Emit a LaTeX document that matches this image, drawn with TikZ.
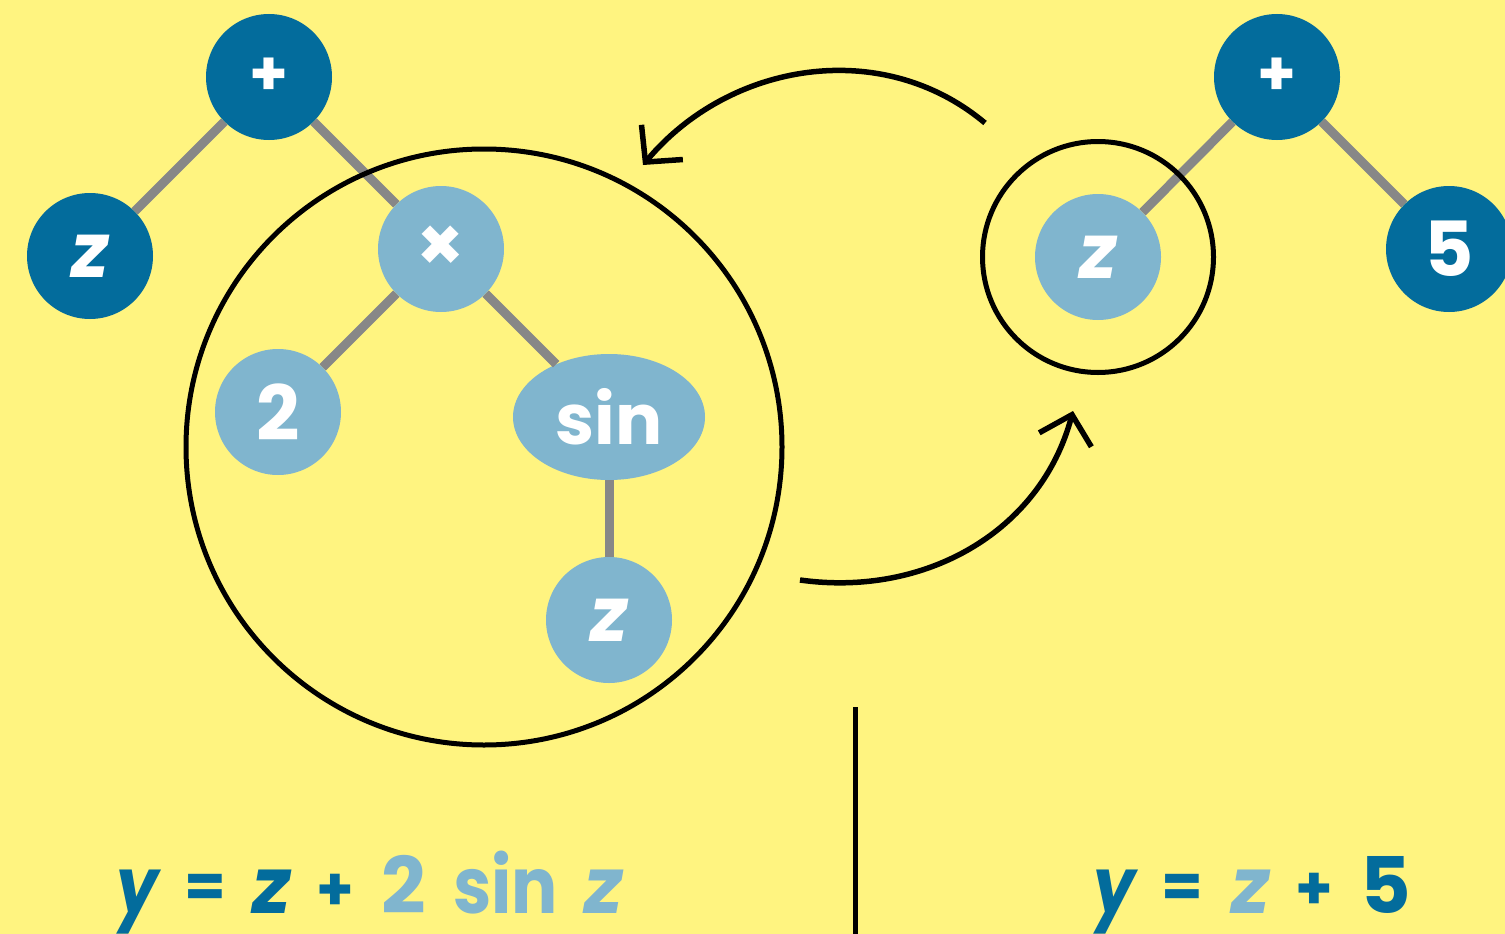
\documentclass[tikz,border=0pt]{standalone}
\usepackage{fontspec}
\setmainfont{Poppins}
\usetikzlibrary{arrows.meta,shapes.geometric}
\definecolor{bg}{HTML}{FFF480}
\definecolor{dblue}{HTML}{036C9C}
\definecolor{lblue}{HTML}{80B5CE}
\definecolor{edgegray}{HTML}{878787}
\begin{document}
\begin{tikzpicture}[x=1pt,y=1pt,
 nd/.style={circle, minimum size=126pt, inner sep=0pt, text=white, font=\fontsize{76}{76}\selectfont\bfseries},
 dk/.style={nd, fill=dblue},
 lt/.style={nd, fill=lblue},
 edge/.style={draw=edgegray, line width=9pt},
 ring/.style={draw=black, line width=5pt},
 arr/.style={draw=black, line width=5.5pt, -{Straight Barb[length=26pt,width=54pt,line width=5.5pt]}},
 eq/.style={anchor=base west, inner sep=0pt, text depth=0pt, font=\fontsize{78}{78}\selectfont\bfseries},
 sym/.style={anchor=center, inner sep=0pt, font=\fontsize{60}{60}\selectfont\bfseries},
]
\fill[bg] (0,0) rectangle (1505,-934);
\useasboundingbox (0,0) rectangle (1505,-934);
% left tree
\node[dk] (p1) at (269,-77) {\fontsize{62}{62}\selectfont +};
\node[dk] (z1) at (90,-256) {\itshape z};
\node[lt] (t1) at (441,-249) {\fontsize{76}{76}\selectfont ×};
\node[lt] (n2) at (278,-412) {2};
\node[ellipse, fill=lblue, minimum width=192pt, minimum height=126pt, inner sep=0pt, text=white, font=\fontsize{70}{70}\selectfont\bfseries] (s1) at (609,-417) {sin};
\node[lt] (z2) at (609,-620) {\itshape z};
\draw[edge] (p1) -- (z1);
\draw[edge] (p1) -- (t1);
\draw[edge] (t1) -- (n2);
\draw[edge] (t1) -- (s1);
\draw[edge] (s1) -- (z2);
\node[ring, circle, minimum size=596pt, inner sep=0pt] (big) at (484,-447) {};
% right tree
\node[dk] (p2) at (1277,-77) {\fontsize{62}{62}\selectfont +};
\node[lt] (z3) at (1098,-257) {\itshape z};
\node[dk] (n5) at (1449,-249) {5};
\draw[edge] (p2) -- (z3);
\draw[edge] (p2) -- (n5);
\node[ring, circle, minimum size=231pt, inner sep=0pt] (small) at (1098,-257) {};
% arrows
\coordinate (a1s) at (985,-123);
\coordinate (a1e) at (643,-165);
\coordinate (a2s) at (800,-580);
\coordinate (a2e) at (1073,-411);
\draw[arr] (a1s) to[out=140,in=50] (a1e);
\draw[arr] (a2s) to[out=-8,in=255] (a2e);
% divider
\coordinate (v1) at (855,-707);
\coordinate (v2) at (855,-934);
\draw[line width=5pt] (v1) -- (v2);
% equations
\node[eq, text=dblue] (e1) at (116,-913) {\scalebox{0.85}[1]{\itshape y}};
\node[sym, text=dblue] (e2) at (205,-891) {=};
\node[eq, text=dblue] (e3) at (252,-913) {\itshape z};
\node[sym, text=dblue] (e4) at (335,-892) {+};
\node[eq, text=lblue] (e5) at (381,-913) {2};
\node[eq, text=lblue] (e6) at (453,-913) {\scalebox{0.88}[1]{sin}};
\node[eq, text=lblue] (e7) at (584,-913) {\itshape z};
\node[eq, text=dblue] (f1) at (1093,-913) {\scalebox{0.85}[1]{\itshape y}};
\node[sym, text=dblue] (f2) at (1182,-891) {=};
\node[eq, text=lblue] (f3) at (1231,-913) {\itshape z};
\node[sym, text=dblue] (f4) at (1314,-891) {+};
\node[eq, text=dblue] (f5) at (1360,-913) {5};
\end{tikzpicture}
\end{document}
